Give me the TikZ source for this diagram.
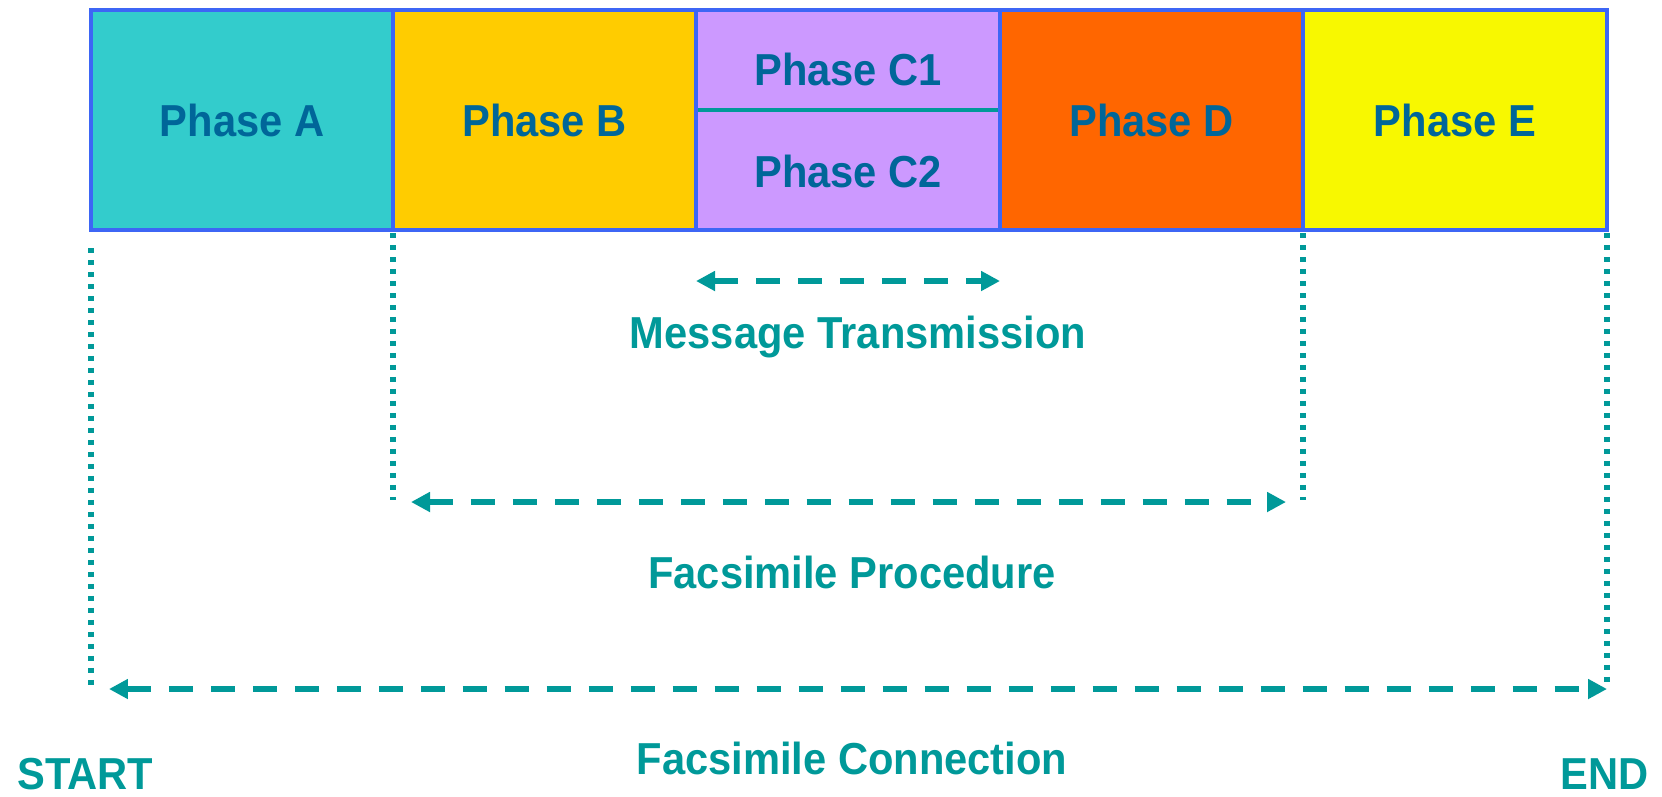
\documentclass[tikz,border=0pt]{standalone}
\usepackage{fontspec}
\newfontfamily\lab{Liberation Sans}[FakeStretch=0.93]
\usetikzlibrary{arrows.meta}
\definecolor{tealc}{HTML}{009999}
\definecolor{navy}{HTML}{006699}
\definecolor{edge}{HTML}{3D66F5}
\definecolor{cA}{HTML}{33CCCC}
\definecolor{cB}{HTML}{FFCC00}
\definecolor{cC}{HTML}{CC99FF}
\definecolor{cD}{HTML}{FF6600}
\definecolor{cE}{HTML}{F8F800}
\tikzset{
  cellline/.style={draw=edge, line width=2.2pt},
  phaselbl/.style={text=navy, font=\lab\bfseries\fontsize{25.5}{30}\selectfont, anchor=base, inner sep=0pt},
  spanlbl/.style={text=tealc, font=\lab\bfseries\fontsize{25.5}{30}\selectfont, anchor=base, inner sep=0pt},
  guide/.style={draw=tealc, line width=3.1pt, dash pattern=on 0.1cm off 0.14cm},
  spanarrow/.style={draw=tealc, line width=3.4pt, dash pattern=on 0.48cm off 0.36cm,
    {Triangle[length=0.38cm,width=0.38cm]}-{Triangle[length=0.38cm,width=0.38cm]}}
}
\begin{document}
\begin{tikzpicture}[x=0.02cm,y=-0.02cm]
\useasboundingbox (0,0) rectangle (1662,796);
% cells
\fill[cA] (91,10) rectangle (393,230);
\fill[cB] (393,10) rectangle (696,230);
\fill[cC] (696,10) rectangle (1000,230);
\fill[cD] (1000,10) rectangle (1303,230);
\fill[cE] (1303,10) rectangle (1607,230);
\draw[tealc, line width=2pt] (696,110) -- (1000,110);
\draw[cellline] (91,10) rectangle (1607,230);
\draw[cellline] (393,10) -- (393,230);
\draw[cellline] (696,10) -- (696,230);
\draw[cellline] (1000,10) -- (1000,230);
\draw[cellline] (1303,10) -- (1303,230);
% phase labels
\node[phaselbl] (pA) at (242,136) {Phase A};
\node[phaselbl] (pB) at (544.5,136) {Phase B};
\node[phaselbl] (pC1) at (848,85) {Phase C1};
\node[phaselbl] (pC2) at (848,187) {Phase C2};
\node[phaselbl] (pD) at (1151.5,136) {Phase D};
\node[phaselbl] (pE) at (1455,136) {Phase E};
% guide lines
\coordinate (gAt) at (91,248);  \coordinate (gAb) at (91,686);
\coordinate (gBt) at (393,233); \coordinate (gBb) at (393,500);
\coordinate (gDt) at (1303,233); \coordinate (gDb) at (1303,500);
\coordinate (gEt) at (1607,233); \coordinate (gEb) at (1607,688);
\draw[guide] (gAt) -- (gAb);
\draw[guide] (gBt) -- (gBb);
\draw[guide] (gDt) -- (gDb);
\draw[guide] (gEt) -- (gEb);
% span arrows
\coordinate (mL) at (696,281); \coordinate (mR) at (1000,281);
\coordinate (fL) at (411,502); \coordinate (fR) at (1286,502);
\coordinate (cL) at (109,689); \coordinate (cR) at (1607,689);
\draw[spanarrow] (mL) -- (mR);
\draw[spanarrow] (fL) -- (fR);
\draw[spanarrow] (cL) -- (cR);
% span labels
\node[spanlbl] (msg) at (858,348) {Message Transmission};
\node[spanlbl] (proc) at (852,588) {Facsimile Procedure};
\node[spanlbl] (conn) at (852,774) {Facsimile Connection};
\node[spanlbl, anchor=base west] (start) at (17,789) {START};
\node[spanlbl, anchor=base east] (end) at (1649,789) {END};
\end{tikzpicture}
\end{document}
